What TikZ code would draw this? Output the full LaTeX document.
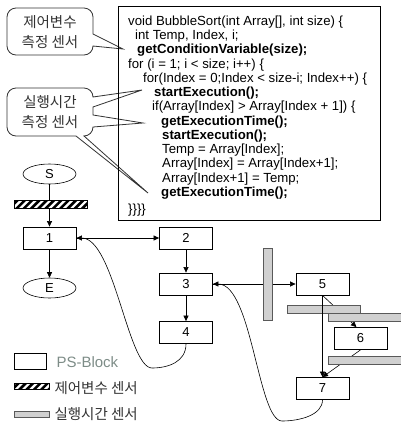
\documentclass[tikz,border=0pt]{standalone}
\usepackage{fontspec}
\setmainfont{Liberation Sans}
\newfontfamily\kor{Noto Sans CJK KR}
\usetikzlibrary{shapes.geometric,arrows.meta}

\definecolor{barfill}{RGB}{208,208,208}
\definecolor{legtext}{RGB}{125,140,135}

\tikzset{
  psblock/.style={draw, line width=0.8pt, minimum width=53pt, minimum height=22pt,
    inner sep=0pt, font=\fontsize{13}{13}\selectfont},
  term/.style={draw, ellipse, line width=0.6pt, minimum width=53pt, minimum height=20pt,
    inner sep=0pt, font=\fontsize{13}{13}\selectfont},
  cvbar/.style={draw, line width=0.9pt, inner sep=0pt, path picture={
      \foreach \k in {-48,-40.7,...,48}
        \draw[line width=2.6pt] ([xshift=\k pt]path picture bounding box.south) ++(-8,8) -- ++(24,-24);}},
  etbar/.style={draw=black!65, fill=barfill, line width=0.6pt, inner sep=0pt},
  flow/.style={line width=0.6pt, -{Triangle[length=5.5pt,width=5pt]}},
  callout/.style={draw=black!80, fill=white, line width=0.8pt},
  kortext/.style={font=\kor\fontsize{14.5}{20}\selectfont, text=black!80},
}

\begin{document}
\begin{tikzpicture}[x=1pt, y=-1pt]
  \useasboundingbox (0,0) rectangle (401,424);

  % sensor callouts
  \draw[callout] (16,8) -- (84,8) arc[start angle=-90, end angle=0, radius=9]
    -- (93,34) -- (123,49) -- (93,46) arc[start angle=0, end angle=90, radius=9]
    -- (16,55) arc[start angle=90, end angle=180, radius=9]
    -- (7,17) arc[start angle=180, end angle=270, radius=9] -- cycle;
  \node[kortext, align=center] (c1) at (50,32) {제어변수\\측정 센서};

  \draw[callout] (16,88) -- (84,88) arc[start angle=-90, end angle=0, radius=9]
    -- (142,90) -- (93,107) -- (93,115) -- (143,123) -- (93,127)
    arc[start angle=0, end angle=90, radius=9]
    -- (148,193) -- (76,136) -- (16,136) arc[start angle=90, end angle=180, radius=9]
    -- (7,97) arc[start angle=180, end angle=270, radius=9] -- cycle;
  \node[kortext, align=center] (c2) at (50,112) {실행시간\\측정 센서};

  % source code
  \node[draw, line width=0.9pt, minimum width=262pt, minimum height=214pt,
    anchor=north west, inner sep=0pt] (code) at (118,6) {};
  \node[anchor=north west, align=left, inner sep=0pt,
    font=\fontsize{13.2}{14.25}\selectfont] (src) at (128,15.5) {%
    void BubbleSort(int Array[], int size) \{\\
    \hspace*{7pt}int Temp, Index, i;\\
    \hspace*{9pt}\textbf{getConditionVariable(size);}\\
    for (i = 1; i < size; i++) \{\\
    \hspace*{15pt}for(Index = 0;Index < size-i; Index++) \{\\
    \hspace*{26pt}\textbf{startExecution();}\\
    \hspace*{24pt}if(Array[Index] > Array[Index + 1]) \{\\
    \hspace*{33pt}\textbf{getExecutionTime();}\\
    \hspace*{34pt}\textbf{startExecution();}\\
    \hspace*{34pt}Temp = Array[Index];\\
    \hspace*{34pt}Array[Index] = Array[Index+1];\\
    \hspace*{34pt}Array[Index+1] = Temp;\\
    \hspace*{33pt}\textbf{getExecutionTime();}\\[3pt]
    \}\}\}\}};

  % PS-blocks
  \node[term] (S) at (49.5,174) {S};
  \node[cvbar, minimum width=73pt, minimum height=8pt] (cv) at (50.5,204) {};
  \node[psblock] (b1) at (49.5,238) {1};
  \node[term] (E) at (49.5,288) {E};
  \node[psblock] (b2) at (186,238) {2};
  \node[psblock] (b3) at (186,284) {3};
  \node[psblock] (b4) at (186,332.5) {4};
  \node[psblock] (b5) at (322.5,284) {5};
  \node[psblock] (b6) at (360.5,338.5) {6};
  \node[psblock] (b7) at (322.5,388.5) {7};

  \coordinate (lp1) at (152,368);
  \coordinate (lp2) at (282,421);

  \draw[line width=0.6pt] (S) -- (S |- cv.north);
  \draw[flow] (b1 |- cv.south) -- (b1);
  \draw[flow] (b1) -- (E);
  \draw[flow] (b1) -- (b2);
  \draw[flow] (b2) -- (b3);
  \draw[flow] (b3) -- (b4);
  \draw[flow] (b3) -- (b5);
  \draw[flow] (b4.south) .. controls (186,362) and (168,368) .. (lp1)
    .. controls (128,368) and (114,238) .. (b1.east);
  \draw[flow] (b7.south) .. controls (322.5,415) and (300,421) .. (lp2)
    .. controls (258,421) and (252,284) .. (b3.east);
  \draw[flow] (b5.south) -- ([xshift=-4pt]b6.north);
  \draw[flow] (b6.south) -- (b7.north);

  % execution time sensors
  \node[etbar, minimum width=9pt, minimum height=72pt] (sv) at (267.5,284) {};
  \node[etbar, minimum width=73pt, minimum height=8pt] (sa) at (324,309) {};
  \node[etbar, minimum width=73pt, minimum height=8pt] (sb) at (364.5,317) {};
  \node[etbar, minimum width=73pt, minimum height=8pt] (sc) at (364.5,360) {};
  \draw[flow] (b5.south) -- (b7.north);

  % legend
  \node[draw, line width=0.8pt, minimum width=32pt, minimum height=16pt] (lgps) at (30,361) {};
  \node[anchor=west, text=legtext, font=\fontsize{15}{15}\selectfont] (lgpst) at (53,362) {PS-Block};
  \node[cvbar, minimum width=35pt, minimum height=6pt] (lgcv) at (31.5,386) {};
  \node[kortext, anchor=west] (lgcvt) at (51,388) {제어변수 센서};
  \node[etbar, minimum width=35pt, minimum height=6pt] (lget) at (31.5,414.5) {};
  \node[kortext, anchor=west] (lgett) at (51,414) {실행시간 센서};
\end{tikzpicture}
\end{document}
